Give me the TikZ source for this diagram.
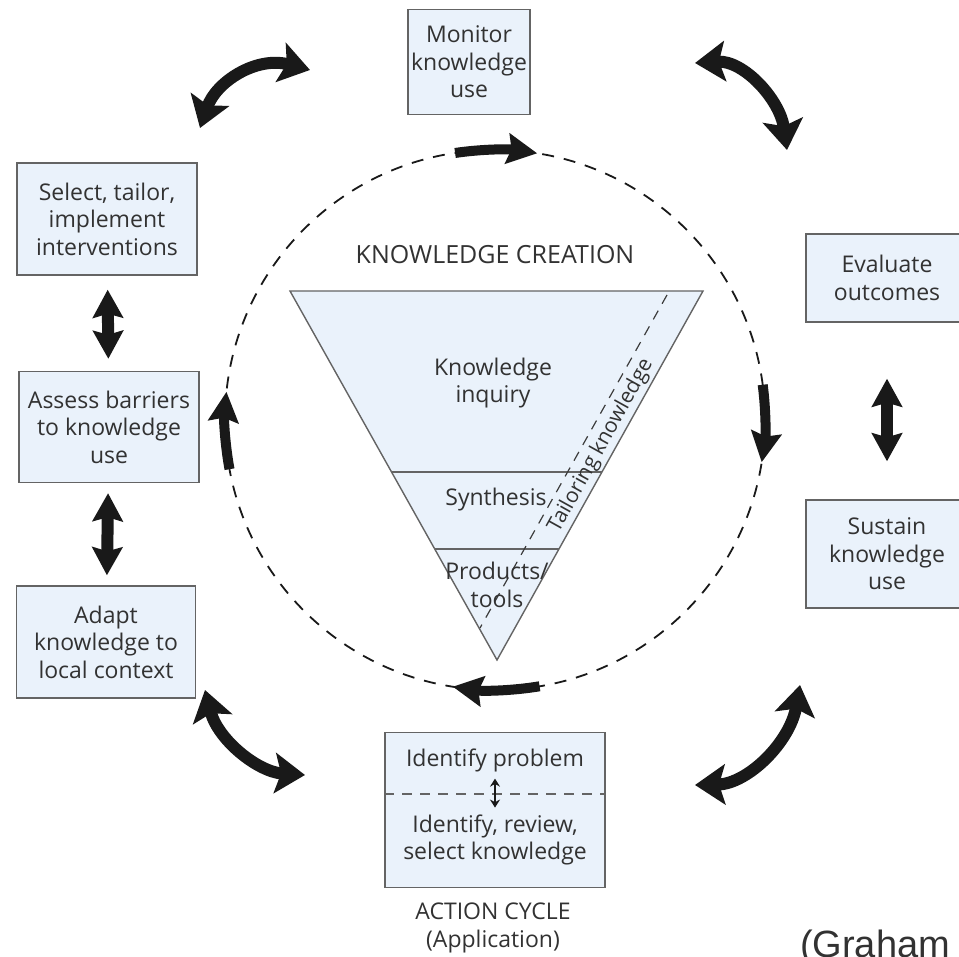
\documentclass[tikz,border=0pt]{standalone}
\usepackage{fontspec}
\setmainfont{Open Sans}
\newfontfamily\citefont{Liberation Sans}
\usetikzlibrary{arrows.meta,calc}

\definecolor{boxblue}{RGB}{234,242,251}
\definecolor{boxline}{RGB}{100,100,100}
\definecolor{inktext}{RGB}{50,50,50}
\definecolor{ink}{RGB}{25,25,25}

\tikzset{
  stepbox/.style={draw=boxline, fill=boxblue, line width=0.7pt, align=center, inner sep=1pt,
    font=\fontsize{11.5}{13.8}\selectfont, text=inktext},
  label/.style={align=center, font=\fontsize{11.5}{13.8}\selectfont, text=inktext},
  funnel/.style={draw=boxline, fill=boxblue, line width=0.7pt},
  swoop/.style={ink, line width=6pt, {Stealth[length=15pt,width=20pt,inset=3pt]}-{Stealth[length=15pt,width=20pt,inset=3pt]}},
  updown/.style={ink, line width=6pt, {Stealth[length=14pt,width=15pt,inset=2pt]}-{Stealth[length=14pt,width=15pt,inset=2pt]}},
  cyclearrow/.style={ink, line width=5pt, -{Stealth[length=15pt,width=15pt,inset=2pt]}},
  tinyarrow/.style={ink, line width=1.2pt, {Stealth[length=4pt,width=5pt]}-{Stealth[length=4pt,width=5pt]}},
}

\begin{document}
\begin{tikzpicture}[x=0.5pt,y=-0.5pt]
\useasboundingbox (0,0) rectangle (959,957);

% knowledge creation funnel
\coordinate (cen) at (495,420);
\coordinate (tl) at (290,291);
\coordinate (tr) at (703,291);
\coordinate (apex) at (497,660);
\draw[ink, line width=0.9pt, dash pattern=on 6pt off 5pt] (cen) circle[radius=270];
\filldraw[funnel] (tl) -- (tr) -- (apex) -- cycle;
\draw[funnel] ($(tl)!0.4905!(apex)$) -- ($(tr)!0.4905!(apex)$);
\draw[funnel] ($(tl)!0.699!(apex)$) -- ($(tr)!0.699!(apex)$);
\coordinate (tk1) at (667,295);
\coordinate (tk2) at (480,628);
\draw[boxline!60!black, line width=0.6pt, dash pattern=on 5pt off 4pt] (tk1) -- (tk2);

\node[label, font=\fontsize{12.5}{14}\selectfont] (kc) at (495,255) {KNOWLEDGE CREATION};
\node[label] (inquiry) at (493,383) {Knowledge\\inquiry};
\node[label] (synth) at (496,500) {Synthesis};
\node[label] (prod) at (497,585) {Products/\\tools};
\node[label, font=\fontsize{10.5}{12}\selectfont, inner sep=0pt, rotate=61] (tailor) at (601,446) {Tailoring knowledge};

% arrows on the cycle
\draw[cyclearrow] (cen) ++(-98.5:270) arc[start angle=-98.5, end angle=-81, radius=270];
\draw[cyclearrow] (cen) ++(-7.5:270) arc[start angle=-7.5, end angle=9, radius=270];
\draw[cyclearrow] (cen) ++(80.5:270) arc[start angle=80.5, end angle=99, radius=270];
\draw[cyclearrow] (cen) ++(169.5:270) arc[start angle=169.5, end angle=186, radius=270];

% action cycle boxes
\node[stepbox, minimum width=61pt, minimum height=52.5pt] (monitor) at (469,62) {Monitor\\knowledge\\use};
\node[stepbox, minimum width=90pt, minimum height=56pt] (select) at (107,219) {Select, tailor,\\implement\\interventions};
\node[stepbox, minimum width=90pt, minimum height=55.5pt] (assess) at (109,427) {Assess barriers\\to knowledge\\use};
\node[stepbox, minimum width=89.5pt, minimum height=56pt] (adapt) at (106,642) {Adapt\\knowledge to\\local context};
\node[stepbox, minimum width=81pt, minimum height=44pt] (evaluate) at (887,278) {Evaluate\\outcomes};
\node[stepbox, minimum width=81pt, minimum height=54pt] (sustain) at (887,554) {Sustain\\knowledge\\use};
\node[stepbox, minimum width=110pt, minimum height=77.5pt] (action) at (495,810) {};
\node[label] (problem) at (495,760) {Identify problem};
\node[label] (review) at (495,840) {Identify, review,\\select knowledge};
\draw[boxline, line width=0.7pt, dash pattern=on 5pt off 4pt] (action.west |- 0,794) -- (action.east |- 0,794);
\draw[tinyarrow] (problem.south) -- (review.north);
\node[label] (cycle) at (493,928) {ACTION CYCLE\\(Application)};

\node[anchor=base west, font=\citefont\fontsize{19}{22}\selectfont, text=inktext] (cite) at (793,957) {(Graham};

% two-way arrows between steps
\draw[updown, shorten <=7pt, shorten >=6pt] (select) -- (assess);
\draw[updown, shorten <=5pt, shorten >=5pt] (assess) -- (adapt);
\draw[updown, shorten <=28pt, shorten >=19pt] (evaluate) -- (sustain);

\coordinate (a1) at (200,128); \coordinate (a2) at (310,70);
\draw[swoop] (a1) .. controls (216,82) and (256,56) .. (a2);
\coordinate (b1) at (695,63); \coordinate (b2) at (787,150);
\draw[swoop] (b1) .. controls (744,60) and (780,100) .. (b2);
\coordinate (c1) at (205,690); \coordinate (c2) at (305,775);
\draw[swoop] (c1) .. controls (218,740) and (258,772) .. (c2);
\coordinate (d1) at (695,785); \coordinate (d2) at (800,685);
\draw[swoop] (d1) .. controls (748,784) and (790,742) .. (d2);
\end{tikzpicture}
\end{document}
